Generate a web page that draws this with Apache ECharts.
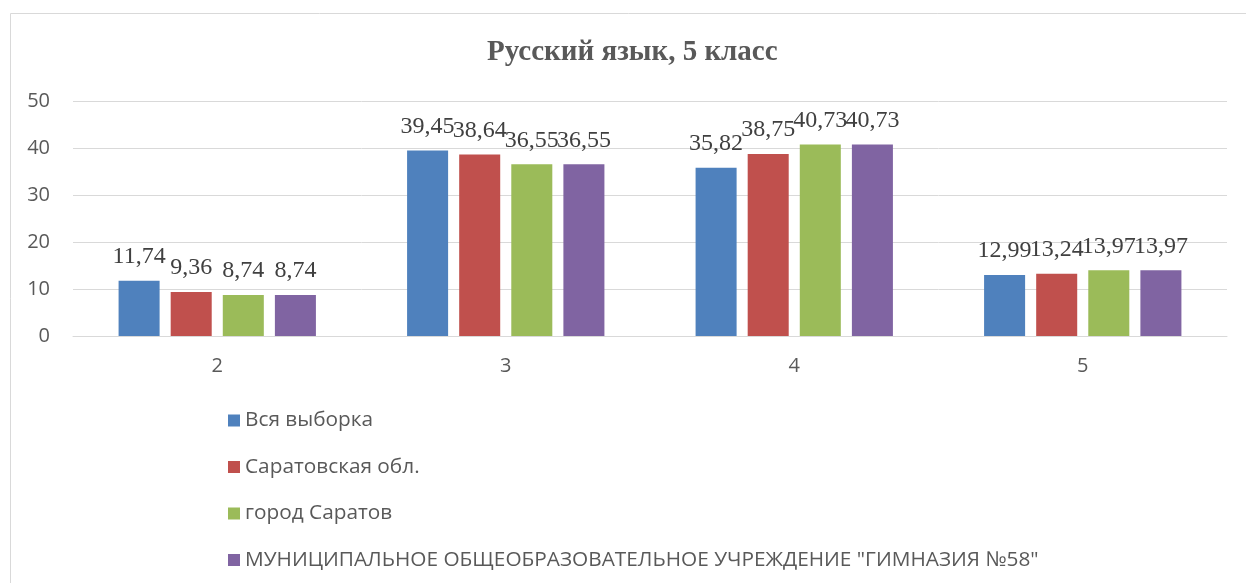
<!DOCTYPE html>
<html><head><meta charset="utf-8">
<script src="https://cdn.jsdelivr.net/npm/echarts@6/dist/echarts.min.js"></script>
<style>html,body{margin:0;padding:0;background:#fff}#c{width:1246px;height:583px}</style>
</head><body><div id="c"></div>
<script>
const categories = ['2', '3', '4', '5'];
const seriesNames = ['Вся выборка', 'Саратовская обл.', 'город Саратов', 'МУНИЦИПАЛЬНОЕ ОБЩЕОБРАЗОВАТЕЛЬНОЕ УЧРЕЖДЕНИЕ "ГИМНАЗИЯ №58"'];
const vsyaVyborka = [11.74, 39.45, 35.82, 12.99];
const saratovObl = [9.36, 38.64, 38.75, 13.24];
const gorodSaratov = [8.74, 36.55, 40.73, 13.97];
const gimnaziya58 = [8.74, 36.55, 40.73, 13.97];
const yTicks = [0, 10, 20, 30, 40, 50];
const colors = ['#4F81BD', '#C0504D', '#9BBB59', '#8064A2'];

const chart = echarts.init(document.getElementById('c'));
const allData = [vsyaVyborka, saratovObl, gorodSaratov, gimnaziya58];
chart.setOption({
  animation: false,
  graphic: [{
    type: 'rect', shape: {x: 10.5, y: 13.5, width: 1400, height: 700},
    style: {fill: 'none', stroke: '#d9d9d9', lineWidth: 1}, silent: true, z: -1
  }],
  title: {
    text: 'Русский язык, 5 класс', left: 482, top: 33,
    textStyle: {fontFamily: 'Liberation Serif', fontWeight: 'bold', fontSize: 29, color: '#595959'}
  },
  legend: {
    orient: 'vertical', left: 223, top: 405, itemWidth: 12, itemHeight: 12, itemGap: 25.5,
    icon: 'rect',
    textStyle: {fontFamily: 'Open Sans', fontSize: 20.8, color: '#595959', lineHeight: 20},
    data: seriesNames
  },
  grid: {left: 73, right: 19, top: 101, bottom: 247},
  xAxis: {
    type: 'category', data: categories,
    axisLine: {lineStyle: {color: '#d9d9d9'}}, axisTick: {show: false},
    axisLabel: {fontFamily: 'Open Sans', fontSize: 20, color: '#595959', margin: 20}
  },
  yAxis: {
    type: 'value', min: yTicks[0], max: yTicks[yTicks.length - 1], interval: 10,
    axisLine: {show: false}, axisTick: {show: false},
    splitLine: {lineStyle: {color: '#d9d9d9'}},
    axisLabel: {fontFamily: 'Open Sans', fontSize: 20, color: '#595959', margin: 23}
  },
  series: allData.map((d, i) => ({
    name: seriesNames[i], type: 'bar', data: d,
    barGap: '27%', barCategoryGap: '31.6%',
    itemStyle: {color: colors[i]},
    label: {
      show: true, position: 'top', distance: 12,
      fontFamily: 'Liberation Serif', fontSize: 24, color: '#404040',
      formatter: p => p.value.toFixed(2).replace('.', ',')
    }
  }))
});
</script></body></html>
